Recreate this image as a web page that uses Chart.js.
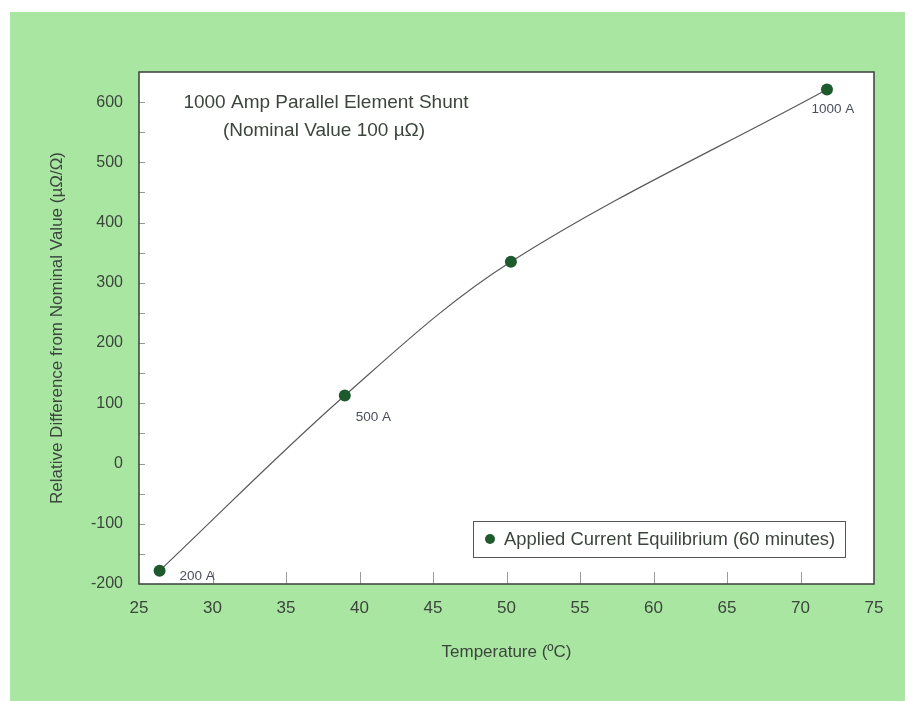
<!DOCTYPE html>
<html>
<head>
<meta charset="utf-8">
<script src="https://cdn.jsdelivr.net/npm/chart.js@4/dist/chart.umd.min.js"></script>
<style>
  html, body { margin: 0; padding: 0; background: #fff; }
  #wrap { width: 905px; height: 701px; }
</style>
</head>
<body>
<div id="wrap"><canvas id="c" width="905" height="701"></canvas></div>
<script>
// Shunt drift vs. temperature, four equilibrium points
var temps = [26.4, 39.0, 50.3, 71.8];
var drift = [-178, 113, 335, 621];
var currents = ["200 A", "500 A", "", "1000 A"];
var xTicks = [25, 30, 35, 40, 45, 50, 55, 60, 65, 70, 75];
var yTicks = [-200, -100, 0, 100, 200, 300, 400, 500, 600];
var seriesLabel = "Applied Current Equilibrium (60 minutes)";
var titleLines = ["1000 Amp Parallel Element Shunt", "(Nominal Value 100 \u00b5\u03a9)"];

var ink = "#3b453c";
var dotColor = "#1f5a2f";
var font = "'Liberation Sans', Arial, sans-serif";

// label offsets from their point (px)
var labelOffsets = [[20, 6, "left"], [11, 22, "left"], [0, 0, "left"], [6, 20, "center"]];

var backdrop = {
  id: "backdrop",
  beforeDraw: function (chart) {
    var ctx = chart.ctx, a = chart.chartArea;
    ctx.save();
    ctx.fillStyle = "#fff";
    ctx.fillRect(0, 0, chart.width, chart.height);
    ctx.fillStyle = "#a9e6a2";
    ctx.fillRect(10, 12, chart.width - 10, chart.height - 12);
    ctx.fillStyle = "#fff";
    ctx.fillRect(a.left, a.top, a.right - a.left, a.bottom - a.top);
    ctx.restore();
  },
  afterDatasetsDraw: function (chart) {
    var ctx = chart.ctx, a = chart.chartArea;
    var xs = chart.scales.x, ys = chart.scales.y;
    ctx.save();
    // inner tick marks
    ctx.strokeStyle = "#9a9a9a";
    ctx.lineWidth = 1;
    for (var i = 1; i < xTicks.length - 1; i++) {
      var px = Math.round(xs.getPixelForValue(xTicks[i])) + 0.5;
      ctx.beginPath();
      ctx.moveTo(px, a.bottom);
      ctx.lineTo(px, a.bottom - 12);
      ctx.stroke();
    }
    for (var v = -150; v <= 600; v += 50) {
      var py = Math.round(ys.getPixelForValue(v)) + 0.5;
      ctx.beginPath();
      ctx.moveTo(a.left, py);
      ctx.lineTo(a.left + 6, py);
      ctx.stroke();
    }
    // frame
    ctx.strokeStyle = "#3a3f3a";
    ctx.lineWidth = 1.5;
    ctx.strokeRect(a.left, a.top, a.right - a.left, a.bottom - a.top);

    // point labels
    ctx.fillStyle = "#4a4f5a";
    ctx.font = "13.5px " + font;
    ctx.textBaseline = "middle";
    for (var k = 0; k < temps.length; k++) {
      if (!currents[k]) continue;
      var o = labelOffsets[k];
      ctx.textAlign = o[2];
      ctx.fillText(currents[k], xs.getPixelForValue(temps[k]) + o[0], ys.getPixelForValue(drift[k]) + o[1]);
    }

    // in-plot title
    ctx.fillStyle = ink;
    ctx.font = "19px " + font;
    ctx.textAlign = "center";
    ctx.fillText(titleLines[0], a.left + 187, a.top + 31);
    ctx.fillText(titleLines[1], a.left + 185, a.top + 59);

    // legend box
    var lx = a.left + 334, ly = a.bottom - 63, lw = 372, lh = 36;
    ctx.fillStyle = "#fff";
    ctx.fillRect(lx, ly, lw, lh);
    ctx.strokeStyle = "#555";
    ctx.lineWidth = 1;
    ctx.strokeRect(lx + 0.5, ly + 0.5, lw, lh);
    ctx.fillStyle = dotColor;
    ctx.beginPath();
    ctx.arc(lx + 17, ly + lh / 2, 5, 0, Math.PI * 2);
    ctx.fill();
    ctx.fillStyle = ink;
    ctx.font = "18.4px " + font;
    ctx.textAlign = "left";
    ctx.fillText(seriesLabel, lx + 31, ly + lh / 2 + 1);
    ctx.restore();
  }
};

new Chart(document.getElementById("c"), {
  type: "scatter",
  data: {
    datasets: [
      {
        label: seriesLabel,
        data: temps.map(function (t, i) { return { x: t, y: drift[i] }; }),
        showLine: true,
        tension: 0.35,
        borderColor: "#5a5a5a",
        borderWidth: 1.2,
        pointRadius: 6,
        pointBackgroundColor: dotColor,
        pointBorderColor: dotColor,
        pointBorderWidth: 0,
      },
    ],
  },
  options: {
    responsive: false,
    animation: false,
    layout: { padding: { left: 0, top: 72, right: 31, bottom: 0 } },
    plugins: { legend: { display: false }, tooltip: { enabled: false } },
    scales: {
      x: {
        type: "linear",
        min: 25,
        max: 75,
        afterBuildTicks: function (s) { s.ticks = xTicks.map(function (v) { return { value: v }; }); },
        afterFit: function (s) { s.height = 117; },
        grid: { display: false, drawTicks: false },
        border: { display: false },
        ticks: { color: ink, font: { family: font, size: 17 }, padding: 14, maxRotation: 0 },
        title: {
          display: true,
          text: "Temperature (\u00baC)",
          color: ink,
          font: { family: font, size: 17 },
          padding: { top: 0, bottom: 38 },
          align: "center",
        },
      },
      y: {
        min: -200,
        max: 650,
        afterBuildTicks: function (s) { s.ticks = yTicks.map(function (v) { return { value: v }; }); },
        afterFit: function (s) { s.width = 139; },
        grid: { display: false, drawTicks: false },
        border: { display: false },
        ticks: { color: ink, font: { family: font, size: 16 }, padding: 16 },
        title: {
          display: true,
          text: "Relative Difference from Nominal Value (\u00b5\u03a9/\u03a9)",
          color: ink,
          font: { family: font, size: 17 },
          padding: { top: 47, bottom: 0 },
        },
      },
    },
  },
  plugins: [backdrop],
});
</script>
</body>
</html>
